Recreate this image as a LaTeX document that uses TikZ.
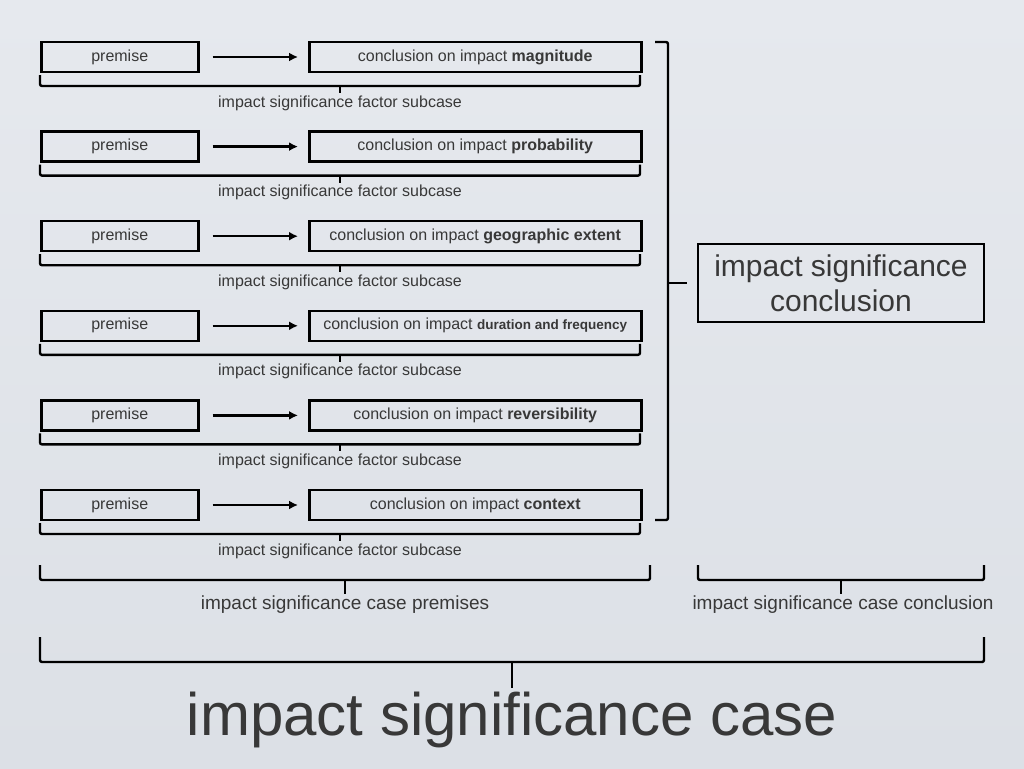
\documentclass[tikz,border=0pt]{standalone}
\usepackage{fontspec}
\usetikzlibrary{arrows.meta}
\setmainfont{Liberation Sans}
\definecolor{bgA}{HTML}{E6E9EE}
\definecolor{bgB}{HTML}{DCE0E6}
\begin{document}
\begin{tikzpicture}[x=1pt,y=-1pt,
  box/.style={draw=black,line width=2.5pt,inner sep=0pt,text=black!78,font=\fontsize{16}{18}\selectfont},
  lbl/.style={text=black!78,font=\fontsize{16}{18}\selectfont},
  brc/.style={draw=black,line width=2.4pt,rounded corners=2pt},
  arr/.style={draw=black,line width=2.4pt,-{Latex[length=9pt,width=9pt]}}]
\shade[top color=bgA, bottom color=bgB] (0,0) rectangle (1024,768);
\useasboundingbox (0,0) rectangle (1024,768);
\foreach \i/\w in {1/{\textbf{magnitude}},2/{\textbf{probability}},3/{\textbf{geographic extent}},4/{{\fontsize{13.5}{15}\selectfont\textbf{duration and frequency}}},5/{\textbf{reversibility}},6/{\textbf{context}}}{
  \pgfmathsetmacro{\yc}{57+89.6*(\i-1)}
  \node[box,minimum width=157pt,minimum height=30pt,anchor=west] (p\i) at (40,\yc) {premise};
  \node[box,minimum width=332pt,minimum height=30pt,anchor=west] (c\i) at (308,\yc) {conclusion on impact \w};
  \draw[arr] ([xshift=13pt]p\i.east) -- ([xshift=-10pt]c\i.west);
  \draw[brc] (40,\yc+18) -- (40,\yc+29) -- (640,\yc+29) -- (640,\yc+18);
  \draw[line width=2.4pt] (340,\yc+29) -- (340,\yc+36);
  \node[lbl] (s\i) at (340,\yc+46) {impact significance factor subcase};
}
\draw[brc] (655,42) -- (668,42) -- (668,520) -- (655,520);
\node[draw=black,line width=2.5pt,minimum width=286pt,minimum height=78pt,text=black!78,align=center,font=\fontsize{30}{35}\selectfont] (ic) at (841,283) {impact significance\\conclusion};
\draw[line width=2.4pt] (668,283) -- ([xshift=-10pt]ic.west);
\draw[brc] (40,565) -- (40,580) -- (650,580) -- (650,565);
\draw[line width=2.4pt] (345,580) -- (345,594);
\node[lbl,font=\fontsize{19}{21}\selectfont] (cp) at (345,605) {impact significance case premises};
\draw[brc] (698,565) -- (698,580) -- (984,580) -- (984,565);
\draw[line width=2.4pt] (841,580) -- (841,594);
\node[lbl,font=\fontsize{19}{21}\selectfont] (cc) at (843,605) {impact significance case conclusion};
\draw[brc] (40,637) -- (40,662) -- (984,662) -- (984,637);
\draw[line width=2.4pt] (512,662) -- (512,688);
\node[lbl,font=\fontsize{60}{64}\selectfont] (big) at (512,720) {impact significance case};
\end{tikzpicture}
\end{document}
